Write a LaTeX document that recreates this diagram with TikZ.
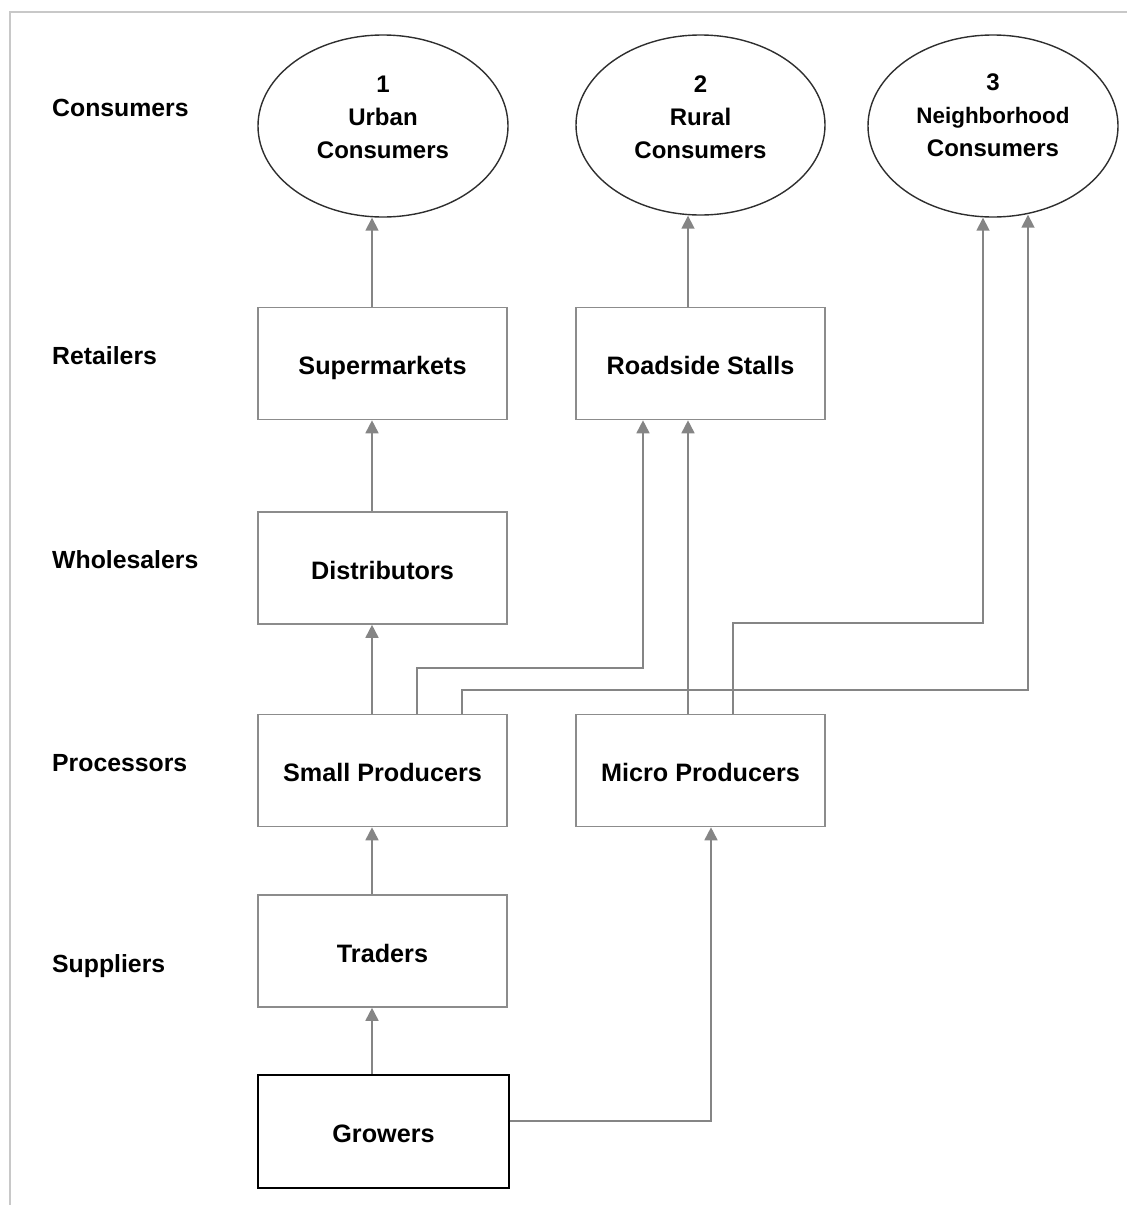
\documentclass[tikz,border=0pt]{standalone}
\usepackage{fontspec}
\setmainfont{Liberation Sans}
\usetikzlibrary{arrows.meta,shapes.geometric}

\definecolor{framegray}{HTML}{C8C8C8}
\definecolor{boxgray}{HTML}{8C8C8C}
\definecolor{linkgray}{HTML}{858585}
\definecolor{ringdark}{HTML}{2E2E2E}

\tikzset{
  txt/.style={font=\bfseries\fontsize{24}{33}\selectfont, inner sep=0pt},
  rowlabel/.style={font=\bfseries\fontsize{24.8}{33}\selectfont, inner sep=0pt,
    anchor=west},
  stagebox/.style={font=\bfseries\fontsize{25.2}{33}\selectfont, inner sep=0pt,
    text height=22pt, text depth=0pt,
    draw=boxgray, line width=1.6pt, minimum width=249pt,
    minimum height=112pt, fill=white},
  rootbox/.style={stagebox, draw=black, line width=1.8pt, minimum width=251pt,
    minimum height=113pt},
  market/.style={ellipse, draw=ringdark, line width=1.4pt, minimum width=250pt,
    minimum height=182pt, inner sep=0pt},
  marketlabel/.style={txt, align=center},
  link/.style={draw=linkgray, line width=1.7pt,
    -{Triangle[length=13pt,width=13pt]}, color=linkgray},
}

\begin{document}
\begin{tikzpicture}[x=1pt,y=-1pt]
\useasboundingbox (0,0) rectangle (1127,1205);

% outer frame, open at the right and at the bottom
\coordinate (fa) at (1127,12);
\coordinate (fb) at (10,12);
\coordinate (fc) at (10,1205);
\draw[framegray, line width=2pt] (fa) -- (fb) -- (fc);

% stage names on the left
\node[rowlabel] (lcons) at (52,108) {Consumers};
\node[rowlabel] (lret)  at (52,356) {Retailers};
\node[rowlabel] (lwho)  at (52,560) {Wholesalers};
\node[rowlabel] (lproc) at (52,763) {Processors};
\node[rowlabel] (lsup)  at (52,966) {Suppliers};

% consumer markets
\node[market] (urban) at (383,126) {};
\node[market, minimum width=249pt, minimum height=180pt] (rural) at (700.5,125) {};
\node[market] (neigh) at (993,126) {};
\node[marketlabel] (turban) at (383,117) {1\\Urban\\Consumers};
\node[marketlabel] (trural) at (700.5,117) {2\\Rural\\Consumers};
\node[marketlabel] (tneigh) at (993,115)
  {3\\{\fontsize{22.4}{33}\selectfont Neighborhood}\\Consumers};

% chain stages
\node[stagebox] (superm) at (382.5,363.5) {Supermarkets};
\node[stagebox] (stalls) at (700.5,363.5) {Roadside Stalls};
\node[stagebox] (distr)  at (382.5,568)   {Distributors};
\node[stagebox] (small)  at (382.5,770.5) {Small Producers};
\node[stagebox] (micro)  at (700.5,770.5) {Micro Producers};
\node[stagebox] (trade)  at (382.5,951)   {Traders};
\node[rootbox]  (grow)   at (383.5,1131.5) {Growers};

% vertical lanes of the connectors
\coordinate (xa) at (372,0);
\coordinate (xb) at (417,668);
\coordinate (xc) at (462,690);
\coordinate (xd) at (643,668);
\coordinate (xe) at (688,0);
\coordinate (xf) at (733,623);
\coordinate (xg) at (983,623);
\coordinate (xh) at (1028,690);
\coordinate (xi) at (711,1121);

% flows
\draw[link] (superm.north -| xa) -- (urban.south -| xa);
\draw[link] (stalls.north -| xe) -- (rural.south -| xe);
\draw[link] (distr.north -| xa)  -- (superm.south -| xa);
\draw[link] (small.north -| xa)  -- (distr.south -| xa);
\draw[link] (trade.north -| xa)  -- (small.south -| xa);
\draw[link] (grow.north -| xa)   -- (trade.south -| xa);
\draw[link] (small.north -| xb) -- (xb) -- (xd) -- (stalls.south -| xd);
\draw[link] (small.north -| xc) -- (xc) -- (xh) -- ([yshift=3pt]neigh.south -| xh);
\draw[link] (micro.north -| xe) -- (stalls.south -| xe);
\draw[link] (micro.north -| xf) -- (xf) -- (xg) -- (neigh.south -| xg);
\draw[link] (grow.east |- xi) -- (xi) -- (micro.south -| xi);

\end{tikzpicture}
\end{document}
